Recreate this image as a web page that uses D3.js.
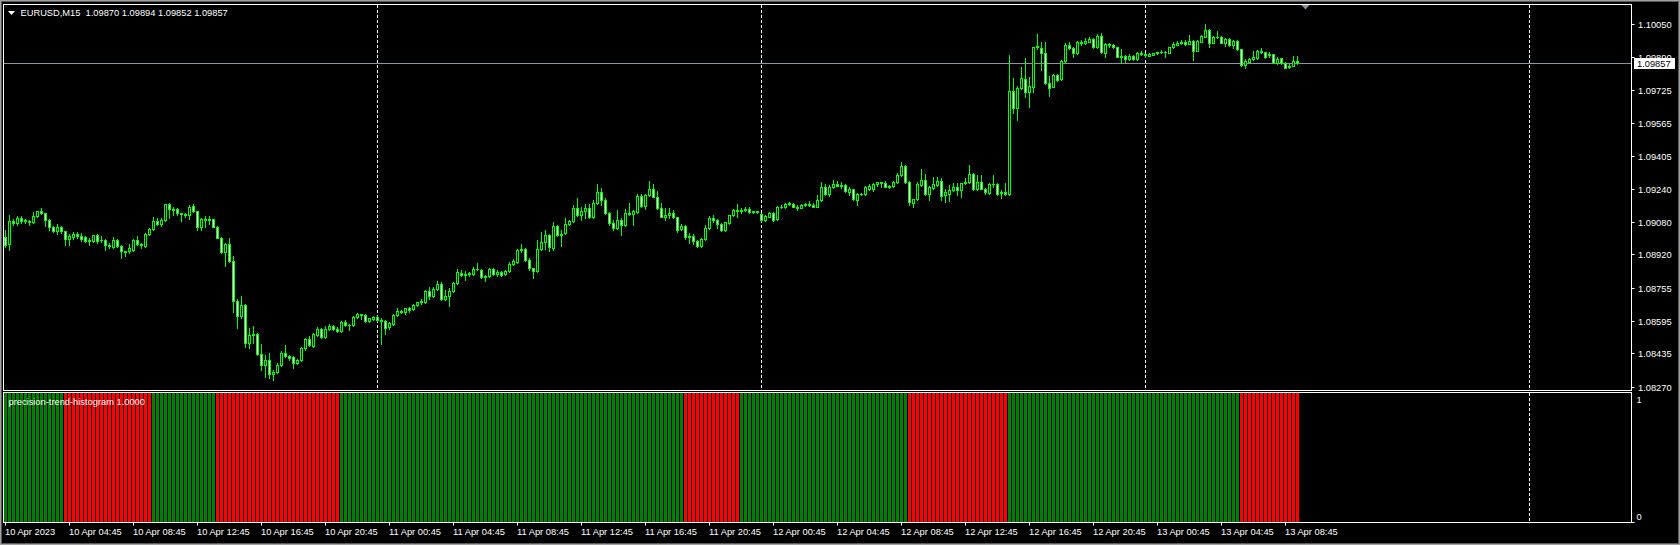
<!DOCTYPE html>
<html>
<head>
<meta charset="utf-8">
<script src="https://cdn.jsdelivr.net/npm/d3@7"></script>
<style>
html, body { margin: 0; padding: 0; background: #000; overflow: hidden; }
svg { display: block; }
text { font-family: "Liberation Sans", Arial, sans-serif; font-size: 9.3px; fill: #fff; white-space: pre; }
</style>
</head>
<body>
<svg id="chart" width="1680" height="545"></svg>
<script>
// ── Data ─────────────────────────────────────────────────────────────────────
const symbol = "EURUSD,M15";
const indicatorName = "precision-trend-histogram 1.0000";
const firstBar = "2023-04-10T00:45:00Z";   // M15 bars
const barMinutes = 15;

// [open, high, low, close] per bar
const candles = [
  [1.09007,1.09041,1.08958,1.08968],[1.08972,1.09115,1.08943,1.09085],[1.09085,1.09095,1.09066,1.09075],[1.09075,1.09110,1.09066,1.09100],
  [1.09100,1.09110,1.09075,1.09083],[1.09083,1.09095,1.09075,1.09090],[1.09085,1.09090,1.09066,1.09080],[1.09078,1.09129,1.09075,1.09110],
  [1.09110,1.09134,1.09105,1.09131],[1.09131,1.09147,1.09119,1.09123],[1.09123,1.09124,1.09061,1.09090],[1.09090,1.09095,1.09041,1.09057],
  [1.09057,1.09061,1.09031,1.09033],[1.09033,1.09070,1.09021,1.09054],[1.09054,1.09061,1.09026,1.09033],[1.09033,1.09036,1.08968,1.08995],
  [1.08995,1.09021,1.08968,1.09008],[1.09007,1.09031,1.08997,1.09021],[1.09021,1.09031,1.09002,1.09012],[1.09012,1.09026,1.08987,1.08998],
  [1.09004,1.09008,1.08982,1.08984],[1.08984,1.09002,1.08964,1.08992],[1.08984,1.09017,1.08982,1.09017],[1.09017,1.09021,1.08977,1.08987],
  [1.08992,1.09012,1.08982,1.08989],[1.08992,1.08997,1.08943,1.08964],[1.08964,1.08977,1.08953,1.08959],[1.08958,1.09007,1.08953,1.08992],
  [1.08992,1.08997,1.08958,1.08959],[1.08959,1.08968,1.08904,1.08935],[1.08935,1.08938,1.08914,1.08930],[1.08935,1.08972,1.08928,1.08951],
  [1.08943,1.08997,1.08938,1.08992],[1.08992,1.09012,1.08968,1.08971],[1.08971,1.08977,1.08953,1.08964],[1.08963,1.09026,1.08958,1.09020],
  [1.09020,1.09051,1.09017,1.09044],[1.09044,1.09105,1.09041,1.09085],[1.09085,1.09100,1.09066,1.09069],[1.09069,1.09100,1.09061,1.09090],
  [1.09090,1.09168,1.09085,1.09167],[1.09167,1.09173,1.09100,1.09142],[1.09142,1.09154,1.09115,1.09139],[1.09142,1.09149,1.09115,1.09123],
  [1.09123,1.09124,1.09085,1.09116],[1.09116,1.09124,1.09105,1.09112],[1.09113,1.09164,1.09095,1.09155],[1.09159,1.09165,1.09129,1.09131],
  [1.09131,1.09134,1.09041,1.09057],[1.09057,1.09100,1.09041,1.09093],[1.09093,1.09110,1.09056,1.09090],[1.09090,1.09110,1.09070,1.09093],
  [1.09093,1.09095,1.09056,1.09057],[1.09057,1.09061,1.09002,1.09003],[1.09003,1.09007,1.08928,1.08932],[1.08932,1.08977,1.08865,1.08971],
  [1.08971,1.09002,1.08884,1.08886],[1.08886,1.08914,1.08639,1.08690],[1.08690,1.08703,1.08561,1.08616],[1.08616,1.08718,1.08610,1.08674],
  [1.08674,1.08678,1.08468,1.08486],[1.08486,1.08561,1.08463,1.08527],[1.08527,1.08571,1.08487,1.08531],[1.08531,1.08536,1.08429,1.08432],
  [1.08432,1.08482,1.08355,1.08376],[1.08376,1.08429,1.08321,1.08404],[1.08404,1.08438,1.08316,1.08334],[1.08334,1.08355,1.08306,1.08344],
  [1.08342,1.08389,1.08340,1.08380],[1.08380,1.08448,1.08375,1.08437],[1.08438,1.08478,1.08419,1.08421],[1.08421,1.08429,1.08404,1.08414],
  [1.08416,1.08424,1.08365,1.08388],[1.08388,1.08409,1.08384,1.08404],[1.08401,1.08468,1.08399,1.08461],[1.08461,1.08512,1.08453,1.08505],
  [1.08505,1.08522,1.08473,1.08474],[1.08473,1.08536,1.08468,1.08531],[1.08527,1.08566,1.08522,1.08554],[1.08554,1.08561,1.08512,1.08513],
  [1.08513,1.08571,1.08512,1.08556],[1.08554,1.08580,1.08551,1.08571],[1.08571,1.08576,1.08551,1.08554],[1.08556,1.08566,1.08541,1.08543],
  [1.08543,1.08595,1.08541,1.08589],[1.08590,1.08600,1.08571,1.08576],[1.08576,1.08580,1.08548,1.08573],[1.08574,1.08620,1.08571,1.08611],
  [1.08611,1.08634,1.08610,1.08628],[1.08628,1.08629,1.08605,1.08625],[1.08625,1.08629,1.08590,1.08594],[1.08595,1.08610,1.08590,1.08606],
  [1.08605,1.08620,1.08600,1.08613],[1.08611,1.08620,1.08595,1.08600],[1.08600,1.08610,1.08482,1.08592],[1.08592,1.08600,1.08531,1.08559],
  [1.08562,1.08590,1.08556,1.08584],[1.08580,1.08629,1.08576,1.08625],[1.08625,1.08659,1.08620,1.08641],[1.08641,1.08649,1.08634,1.08638],
  [1.08638,1.08659,1.08629,1.08655],[1.08655,1.08664,1.08639,1.08649],[1.08652,1.08678,1.08649,1.08674],[1.08674,1.08688,1.08669,1.08685],
  [1.08685,1.08703,1.08678,1.08690],[1.08685,1.08747,1.08683,1.08742],[1.08742,1.08762,1.08703,1.08718],[1.08718,1.08762,1.08713,1.08752],
  [1.08752,1.08791,1.08747,1.08775],[1.08775,1.08786,1.08698,1.08701],[1.08701,1.08747,1.08698,1.08718],[1.08714,1.08757,1.08665,1.08739],
  [1.08739,1.08786,1.08737,1.08780],[1.08780,1.08850,1.08776,1.08835],[1.08829,1.08845,1.08816,1.08821],[1.08821,1.08840,1.08796,1.08824],
  [1.08824,1.08835,1.08816,1.08827],[1.08825,1.08860,1.08821,1.08850],[1.08850,1.08878,1.08845,1.08849],[1.08845,1.08850,1.08806,1.08809],
  [1.08809,1.08821,1.08791,1.08816],[1.08812,1.08855,1.08811,1.08850],[1.08850,1.08855,1.08821,1.08824],[1.08824,1.08845,1.08816,1.08834],
  [1.08834,1.08840,1.08816,1.08821],[1.08822,1.08845,1.08821,1.08840],[1.08840,1.08884,1.08835,1.08874],[1.08873,1.08899,1.08870,1.08886],
  [1.08881,1.08948,1.08879,1.08943],[1.08943,1.08972,1.08933,1.08946],[1.08948,1.08953,1.08889,1.08891],[1.08891,1.08904,1.08845,1.08853],
  [1.08853,1.08855,1.08806,1.08837],[1.08837,1.08992,1.08835,1.08948],[1.08946,1.09031,1.08943,1.08982],[1.08979,1.09041,1.08948,1.09017],
  [1.09017,1.09021,1.08938,1.08956],[1.08951,1.09080,1.08943,1.09061],[1.09061,1.09066,1.09012,1.09017],[1.09017,1.09041,1.08959,1.09021],
  [1.09025,1.09100,1.09021,1.09069],[1.09069,1.09090,1.09066,1.09085],[1.09085,1.09164,1.09080,1.09147],[1.09147,1.09198,1.09110,1.09115],
  [1.09115,1.09154,1.09090,1.09131],[1.09131,1.09168,1.09100,1.09150],[1.09150,1.09168,1.09100,1.09103],[1.09103,1.09188,1.09100,1.09172],
  [1.09172,1.09266,1.09168,1.09227],[1.09227,1.09247,1.09164,1.09188],[1.09188,1.09198,1.09119,1.09123],[1.09123,1.09129,1.09066,1.09074],
  [1.09074,1.09090,1.09041,1.09049],[1.09049,1.09139,1.09046,1.09089],[1.09089,1.09100,1.09017,1.09066],[1.09066,1.09144,1.09061,1.09123],
  [1.09123,1.09173,1.09115,1.09119],[1.09118,1.09139,1.09066,1.09131],[1.09126,1.09217,1.09124,1.09208],[1.09208,1.09217,1.09154,1.09160],
  [1.09160,1.09217,1.09144,1.09213],[1.09213,1.09281,1.09208,1.09240],[1.09240,1.09266,1.09203,1.09204],[1.09204,1.09232,1.09144,1.09147],
  [1.09147,1.09173,1.09105,1.09106],[1.09106,1.09149,1.09090,1.09112],[1.09112,1.09149,1.09100,1.09123],[1.09123,1.09139,1.09100,1.09103],
  [1.09103,1.09105,1.09031,1.09041],[1.09044,1.09070,1.09041,1.09061],[1.09061,1.09066,1.08997,1.09005],[1.09005,1.09026,1.08977,1.09012],
  [1.09012,1.09021,1.08972,1.08984],[1.08984,1.08992,1.08958,1.08959],[1.08963,1.09002,1.08958,1.08997],[1.08995,1.09066,1.08992,1.09049],
  [1.09049,1.09110,1.09046,1.09098],[1.09098,1.09115,1.09080,1.09087],[1.09087,1.09095,1.09051,1.09069],[1.09069,1.09075,1.09036,1.09041],
  [1.09041,1.09080,1.09036,1.09077],[1.09074,1.09115,1.09070,1.09111],[1.09111,1.09144,1.09110,1.09139],[1.09139,1.09168,1.09105,1.09134],
  [1.09134,1.09149,1.09124,1.09139],[1.09139,1.09154,1.09134,1.09145],[1.09144,1.09154,1.09124,1.09126],[1.09126,1.09134,1.09124,1.09131],
  [1.09131,1.09134,1.09124,1.09126],[1.09119,1.09124,1.09085,1.09087],[1.09087,1.09115,1.09085,1.09110],[1.09106,1.09129,1.09105,1.09123],
  [1.09123,1.09129,1.09085,1.09087],[1.09093,1.09159,1.09090,1.09152],[1.09152,1.09164,1.09149,1.09155],[1.09154,1.09173,1.09149,1.09168],
  [1.09168,1.09178,1.09164,1.09172],[1.09168,1.09173,1.09154,1.09155],[1.09155,1.09164,1.09139,1.09150],[1.09150,1.09168,1.09149,1.09162],
  [1.09162,1.09173,1.09159,1.09167],[1.09167,1.09183,1.09159,1.09164],[1.09164,1.09173,1.09154,1.09155],[1.09155,1.09213,1.09154,1.09188],
  [1.09185,1.09276,1.09183,1.09250],[1.09250,1.09266,1.09213,1.09216],[1.09216,1.09262,1.09208,1.09250],[1.09250,1.09286,1.09247,1.09266],
  [1.09266,1.09281,1.09257,1.09258],[1.09258,1.09276,1.09247,1.09262],[1.09262,1.09266,1.09227,1.09229],[1.09226,1.09252,1.09213,1.09240],
  [1.09240,1.09242,1.09188,1.09191],[1.09188,1.09222,1.09164,1.09217],[1.09217,1.09220,1.09211,1.09214],[1.09214,1.09257,1.09213,1.09250],
  [1.09240,1.09266,1.09237,1.09257],[1.09242,1.09271,1.09232,1.09265],[1.09265,1.09276,1.09257,1.09273],[1.09273,1.09276,1.09253,1.09270],
  [1.09271,1.09281,1.09252,1.09253],[1.09253,1.09262,1.09244,1.09257],[1.09254,1.09281,1.09252,1.09276],[1.09275,1.09320,1.09271,1.09309],
  [1.09311,1.09374,1.09306,1.09355],[1.09355,1.09360,1.09271,1.09273],[1.09273,1.09281,1.09164,1.09175],[1.09173,1.09193,1.09154,1.09191],
  [1.09191,1.09276,1.09188,1.09266],[1.09262,1.09340,1.09257,1.09286],[1.09286,1.09315,1.09213,1.09217],[1.09217,1.09257,1.09188,1.09250],
  [1.09247,1.09301,1.09242,1.09266],[1.09262,1.09301,1.09257,1.09280],[1.09280,1.09296,1.09188,1.09208],[1.09213,1.09242,1.09178,1.09224],
  [1.09217,1.09262,1.09183,1.09237],[1.09234,1.09271,1.09232,1.09253],[1.09253,1.09271,1.09213,1.09237],[1.09237,1.09271,1.09203,1.09270],
  [1.09270,1.09296,1.09266,1.09276],[1.09276,1.09360,1.09271,1.09315],[1.09315,1.09320,1.09237,1.09242],[1.09242,1.09311,1.09237,1.09276],
  [1.09276,1.09311,1.09242,1.09243],[1.09243,1.09247,1.09217,1.09224],[1.09222,1.09271,1.09217,1.09265],[1.09265,1.09311,1.09252,1.09263],
  [1.09266,1.09271,1.09213,1.09217],[1.09221,1.09237,1.09198,1.09227],[1.09227,1.09271,1.09213,1.09217],[1.09217,1.09899,1.09213,1.09722],
  [1.09722,1.09786,1.09614,1.09637],[1.09637,1.09747,1.09580,1.09737],[1.09735,1.09841,1.09732,1.09784],[1.09779,1.09885,1.09694,1.09719],
  [1.09719,1.09792,1.09645,1.09747],[1.09743,1.09939,1.09719,1.09936],[1.09936,1.10001,1.09928,1.09943],[1.09931,1.09964,1.09822,1.09907],
  [1.09907,1.09961,1.09756,1.09760],[1.09760,1.09796,1.09698,1.09738],[1.09743,1.09805,1.09742,1.09801],[1.09801,1.09805,1.09771,1.09776],
  [1.09779,1.09874,1.09776,1.09869],[1.09869,1.09957,1.09859,1.09948],[1.09948,1.09962,1.09928,1.09931],[1.09931,1.09938,1.09889,1.09907],
  [1.09907,1.09967,1.09903,1.09961],[1.09961,1.09972,1.09948,1.09957],[1.09956,1.09982,1.09952,1.09967],[1.09964,1.09987,1.09962,1.09975],
  [1.09975,1.09982,1.09933,1.09936],[1.09936,1.10001,1.09933,1.09992],[1.09992,1.10006,1.09908,1.09912],[1.09907,1.09957,1.09889,1.09952],
  [1.09952,1.09957,1.09938,1.09948],[1.09948,1.09952,1.09933,1.09936],[1.09936,1.09938,1.09889,1.09890],[1.09890,1.09928,1.09861,1.09894],
  [1.09894,1.09899,1.09864,1.09877],[1.09879,1.09903,1.09874,1.09894],[1.09894,1.09899,1.09874,1.09877],[1.09877,1.09913,1.09874,1.09910],
  [1.09910,1.09918,1.09899,1.09903],[1.09903,1.09908,1.09889,1.09896],[1.09895,1.09908,1.09892,1.09903],[1.09900,1.09908,1.09896,1.09907],
  [1.09907,1.09913,1.09903,1.09912],[1.09912,1.09923,1.09908,1.09913],[1.09913,1.09918,1.09890,1.09912],[1.09910,1.09939,1.09908,1.09936],
  [1.09936,1.09962,1.09933,1.09952],[1.09948,1.09967,1.09945,1.09959],[1.09956,1.09972,1.09952,1.09964],[1.09964,1.09972,1.09948,1.09952],
  [1.09952,1.09997,1.09950,1.09967],[1.09967,1.09972,1.09874,1.09920],[1.09920,1.09972,1.09918,1.09967],[1.09964,1.09997,1.09962,1.09992],
  [1.09988,1.10050,1.09987,1.10021],[1.10021,1.10026,1.09938,1.09959],[1.09959,1.09992,1.09957,1.09985],[1.09985,1.10016,1.09982,1.09988],
  [1.09987,1.09992,1.09957,1.09959],[1.09959,1.09982,1.09943,1.09975],[1.09975,1.09982,1.09943,1.09948],[1.09948,1.09972,1.09933,1.09967],
  [1.09967,1.09972,1.09923,1.09926],[1.09926,1.09928,1.09845,1.09850],[1.09850,1.09879,1.09835,1.09869],[1.09866,1.09884,1.09864,1.09879],
  [1.09879,1.09918,1.09874,1.09887],[1.09882,1.09923,1.09879,1.09920],[1.09918,1.09933,1.09908,1.09913],[1.09912,1.09913,1.09884,1.09890],
  [1.09899,1.09913,1.09889,1.09903],[1.09902,1.09903,1.09859,1.09861],[1.09861,1.09889,1.09854,1.09877],[1.09882,1.09884,1.09854,1.09858],
  [1.09858,1.09864,1.09835,1.09836],[1.09838,1.09854,1.09835,1.09842],[1.09845,1.09894,1.09842,1.09869],[1.09870,1.09894,1.09852,1.09857]
];

// histogram runs: [trend (1 up, 0 down), number of bars]
const trendRuns = [[1,15],[0,22],[1,16],[0,31],[1,86],[0,14],[1,42],[0,25],[1,58],[0,15]];

const priceTicks = [1.10050, 1.09890, 1.09725, 1.09565, 1.09405, 1.09240, 1.09080,
                    1.08920, 1.08755, 1.08595, 1.08435, 1.08270];
const histTicks = [1, 0];

const timeTicks = ["2023-04-10T00:45Z","2023-04-10T04:45Z","2023-04-10T08:45Z","2023-04-10T12:45Z",
  "2023-04-10T16:45Z","2023-04-10T20:45Z","2023-04-11T00:45Z","2023-04-11T04:45Z","2023-04-11T08:45Z",
  "2023-04-11T12:45Z","2023-04-11T16:45Z","2023-04-11T20:45Z","2023-04-12T00:45Z","2023-04-12T04:45Z",
  "2023-04-12T08:45Z","2023-04-12T12:45Z","2023-04-12T16:45Z","2023-04-12T20:45Z","2023-04-13T00:45Z",
  "2023-04-13T04:45Z","2023-04-13T08:45Z"];
const timeTickLabels = ["10 Apr 2023","10 Apr 04:45","10 Apr 08:45","10 Apr 12:45","10 Apr 16:45",
  "10 Apr 20:45","11 Apr 00:45","11 Apr 04:45","11 Apr 08:45","11 Apr 12:45","11 Apr 16:45",
  "11 Apr 20:45","12 Apr 00:45","12 Apr 04:45","12 Apr 08:45","12 Apr 12:45","12 Apr 16:45",
  "12 Apr 20:45","13 Apr 00:45","13 Apr 04:45","13 Apr 08:45"];
const daySeparators = ["2023-04-11T00:00Z","2023-04-12T00:00Z","2023-04-13T00:00Z","2023-04-14T00:00Z"];
const shiftBar = 325;

// ── Layout ───────────────────────────────────────────────────────────────────
const W = 1680, H = 545;
const frame = { left: 3.5, right: 1631.5 };
const main = { top: 4.5, bottom: 390.5 };
const sub  = { top: 392.5, bottom: 522.5 };
const LIME = "#00ff00", GRID = "#ffffff";

const svg = d3.select("#chart");
const barIndex = t => (Date.parse(t) - Date.parse(firstBar)) / (barMinutes * 60000);

const x = d3.scaleLinear().domain([0, 406]).range([5.5, 1629.5]);
const y = d3.scaleLinear().domain([1.08270, 1.10050]).range([387, 24]);
const yh = d3.scaleLinear().domain([0, 1]).range([522, 393]);
const py = p => Math.round(y(p));

// window border
svg.append("rect").attr("x", 0.5).attr("y", 0.5).attr("width", W - 1).attr("height", H - 1)
  .attr("fill", "none").attr("stroke", "#a0a0a0");
svg.append("rect").attr("x", 1.5).attr("y", 1.5).attr("width", W - 3).attr("height", H - 3)
  .attr("fill", "none").attr("stroke", "#5a5a5a");

// ── Period separators ────────────────────────────────────────────────────────
const sepG = svg.append("g").attr("stroke", GRID).attr("stroke-dasharray", "3,2");
daySeparators.forEach(t => {
  const xs = Math.floor(x(barIndex(t))) + 0.5;
  sepG.append("line").attr("x1", xs).attr("x2", xs).attr("y1", main.top + 0.5).attr("y2", main.bottom);
  sepG.append("line").attr("x1", xs).attr("x2", xs).attr("y1", sub.top + 0.5).attr("y2", sub.bottom);
});

// ── Histogram (subwindow) ────────────────────────────────────────────────────
const trend = trendRuns.flatMap(([v, n]) => Array(n).fill(v));
svg.append("g").selectAll("rect").data(trend).join("rect")
  .attr("x", (d, i) => x(i) - 1.5)
  .attr("width", 3)
  .attr("y", yh(1))
  .attr("height", yh(0) - yh(1))
  .attr("fill", d => d ? "#008000" : "#ff0000");

// ── Bid line ─────────────────────────────────────────────────────────────────
const last = candles[candles.length - 1];
const bidY = py(last[3]) + 0.5;
svg.append("line").attr("x1", frame.left).attr("x2", frame.right)
  .attr("y1", bidY).attr("y2", bidY).attr("stroke", "#8a96a3");

// ── Candles ──────────────────────────────────────────────────────────────────
const bars = candles.map(([o, h, l, c], i) => ({ i, o, h, l, c }));
const cg = svg.append("g").selectAll("g").data(bars).join("g");
cg.append("rect")
  .attr("x", d => x(d.i) - 0.5).attr("width", 1)
  .attr("y", d => py(d.h)).attr("height", d => py(d.l) - py(d.h) + 1)
  .attr("fill", LIME);
cg.append("rect")
  .attr("x", d => x(d.i) - 1.5).attr("width", 3)
  .attr("y", d => py(Math.max(d.o, d.c)))
  .attr("height", d => py(Math.min(d.o, d.c)) - py(Math.max(d.o, d.c)) + 1)
  .attr("fill", LIME);
cg.filter(d => py(Math.min(d.o, d.c)) - py(Math.max(d.o, d.c)) >= 2)
  .append("rect")
  .attr("x", d => x(d.i) - 0.5).attr("width", 1)
  .attr("y", d => py(Math.max(d.o, d.c)) + 1)
  .attr("height", d => py(Math.min(d.o, d.c)) - py(Math.max(d.o, d.c)) - 1)
  .attr("fill", d => d.c < d.o ? "#ffffff" : "#000000");

// ── Frames ───────────────────────────────────────────────────────────────────
svg.append("rect").attr("x", frame.left).attr("y", main.top)
  .attr("width", frame.right - frame.left).attr("height", main.bottom - main.top)
  .attr("fill", "none").attr("stroke", GRID);
svg.append("rect").attr("x", frame.left).attr("y", sub.top)
  .attr("width", frame.right - frame.left).attr("height", sub.bottom - sub.top)
  .attr("fill", "none").attr("stroke", GRID);

// ── Price axis ───────────────────────────────────────────────────────────────
const fmt = d3.format(".5f");
const pa = svg.append("g").selectAll("g").data(priceTicks).join("g")
  .attr("transform", d => `translate(0,${py(d) + 0.5})`);
pa.append("line").attr("x1", frame.right).attr("x2", frame.right + 3).attr("stroke", GRID);
pa.append("text").attr("x", 1638).attr("dy", "0.35em").text(d => fmt(d));

// histogram scale labels
svg.append("text").attr("x", 1636.5).attr("y", 402.5).text(histTicks[0]);
svg.append("text").attr("x", 1636.5).attr("y", 519.5).text(histTicks[1]);
svg.append("line").attr("x1", frame.right).attr("x2", frame.right + 3)
  .attr("y1", sub.bottom).attr("y2", sub.bottom).attr("stroke", GRID);

// bid label
svg.append("rect").attr("x", 1634).attr("y", bidY - 5.5).attr("width", 41).attr("height", 11).attr("fill", "#fff");
svg.append("text").attr("x", 1637).attr("y", bidY).attr("dy", "0.35em")
  .style("fill", "#000").text(fmt(last[3]));

// ── Time axis ────────────────────────────────────────────────────────────────
const ta = svg.append("g").selectAll("g").data(timeTicks).join("g")
  .attr("transform", t => `translate(${x(barIndex(t))},0)`);
ta.append("line").attr("y1", sub.bottom).attr("y2", sub.bottom + 3).attr("stroke", GRID);
ta.append("text").attr("x", -0.5).attr("y", 535).text((t, i) => timeTickLabels[i]);

// ── Titles ───────────────────────────────────────────────────────────────────
svg.append("path").attr("d", "M8,11 L15,11 L11.5,15 Z").attr("fill", "#fff");
svg.append("text").attr("x", 20.5).attr("y", 15.5)
  .text(`${symbol}  ${last.map(fmt).join(" ")}`);
svg.append("text").attr("x", 8.5).attr("y", 404.5).text(indicatorName);

// chart shift marker
const sx = x(shiftBar);
svg.append("path").attr("d", `M${sx - 4},5 L${sx + 4},5 L${sx},9.5 Z`).attr("fill", "#8a8f99");
</script>
</body>
</html>
